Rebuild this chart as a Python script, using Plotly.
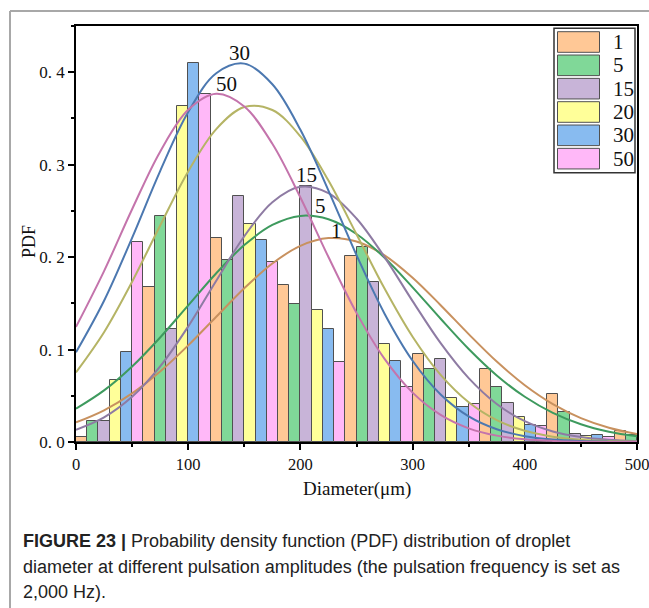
import plotly.graph_objects as go

# ---------------- data ----------------
bin_centers = [30, 90, 150, 210, 270, 330, 390, 450, 510]
series_names = ["1", "5", "15", "20", "30", "50"]
pdf_1 = [0.005, 0.168, 0.221, 0.170, 0.201, 0.095, 0.079, 0.052, 0.0115]
pdf_5 = [0.023, 0.245, 0.197, 0.149, 0.211, 0.079, 0.059, 0.032, 0.0072]
pdf_15 = [0.023, 0.122, 0.266, 0.277, 0.173, 0.090, 0.042, 0.009, None]
pdf_20 = [0.067, 0.364, 0.236, 0.143, 0.106, 0.048, 0.027, 0.007, None]
pdf_30 = [0.097, 0.410, 0.218, 0.122, 0.088, 0.038, 0.018, 0.0076, None]
pdf_50 = [0.216, 0.376, 0.195, 0.087, 0.060, 0.0415, 0.017, 0.005, None]

fit_x = [0, 25, 50, 75, 100, 125, 150, 175, 200, 225, 250, 275, 300,
         325, 350, 375, 400, 425, 450, 475, 500]
fit_1 = [0.0212, 0.0343, 0.0526, 0.0762, 0.1045, 0.1355, 0.1663, 0.1931, 0.2122, 0.2206, 0.2169,
         0.2019, 0.1777, 0.1480, 0.1167, 0.0870, 0.0614, 0.0410, 0.0259, 0.0155, 0.0087]
fit_5 = [0.0360, 0.0558, 0.0817, 0.1131, 0.1478, 0.1826, 0.2130, 0.2348, 0.2446, 0.2409, 0.2250,
         0.1993, 0.1673, 0.1333, 0.1006, 0.0720, 0.0489, 0.0315, 0.0192, 0.0111, 0.0061]
fit_15 = [0.0133, 0.0267, 0.0489, 0.0818, 0.1250, 0.1745, 0.2226, 0.2594, 0.2761, 0.2693, 0.2418,
          0.2000, 0.1524, 0.1069, 0.0691, 0.0411, 0.0225, 0.0114, 0.0053, 0.0023, 0.0009]
fit_20 = [0.0753, 0.1188, 0.1734, 0.2342, 0.2927, 0.3385, 0.3623, 0.3591, 0.3306, 0.2828, 0.2248,
          0.1660, 0.1139, 0.0726, 0.0430, 0.0236, 0.0121, 0.0057, 0.0025, 0.0010, 0.0004]
fit_30 = [0.0970, 0.1528, 0.2209, 0.2931, 0.3569, 0.3989, 0.4093, 0.3870, 0.3377, 0.2720, 0.2022,
          0.1388, 0.0879, 0.0514, 0.0277, 0.0138, 0.0063, 0.0027, 0.0011, 0.0004, 0.0001]
fit_50 = [0.1245, 0.1849, 0.2518, 0.3141, 0.3593, 0.3766, 0.3629, 0.3226, 0.2645, 0.2001, 0.1397,
          0.0899, 0.0534, 0.0293, 0.0148, 0.0069, 0.0030, 0.0012, 0.0004, 0.0001, 0.0000]

curve_labels = ["30", "50", "15", "5", "1"]
curve_label_x = [146, 134, 205, 218, 232]
curve_label_y = [0.421, 0.387, 0.289, 0.255, 0.228]

x_tickvals = [0, 100, 200, 300, 400, 500]
x_ticktext = ["0", "100", "200", "300", "400", "500"]
y_tickvals = [0.0, 0.1, 0.2, 0.3, 0.4]
y_ticktext = ["0. 0", "0. 1", "0. 2", "0. 3", "0. 4"]

x_title = "Diameter(μm)"
y_title = "PDF"

caption_lines = [
    "<b>FIGURE 23 |</b> Probability density function (PDF) distribution of droplet",
    "diameter at different pulsation amplitudes (the pulsation frequency is set as",
    "2,000 Hz).",
]

# ---------------- styles ----------------
bar_values = [pdf_1, pdf_5, pdf_15, pdf_20, pdf_30, pdf_50]
fit_values = [fit_1, fit_5, fit_15, fit_20, fit_30, fit_50]
bar_colors = ["#FFC896", "#80D898", "#C8B4D8", "#FFFF99", "#88BBF0", "#FFB8F8"]
line_colors = ["#C8915F", "#3E9A5E", "#8E7BA3", "#B5B465", "#4C78B0", "#C474AC"]

W, H = 649, 608
L, R, T, B = 76, 12, 26, 166
PW, PH = W - L - R, H - T - B

def px(xp):
    return (xp - L) / PW

def py(yp):
    return (H - B - yp) / PH

SERIF = "Times New Roman, Liberation Serif, serif"
SANS = "Liberation Sans, Arial, Helvetica, sans-serif"

fig = go.Figure()
for name, vals, col in zip(series_names, bar_values, bar_colors):
    fig.add_trace(go.Bar(
        x=bin_centers, y=vals, name=name, showlegend=False,
        marker=dict(color=col, line=dict(color="#505050", width=1)),
    ))
for name, vals, col in zip(series_names, fit_values, line_colors):
    fig.add_trace(go.Scatter(
        x=fit_x, y=vals, mode="lines", name=name + " fit", showlegend=False,
        line=dict(color=col, width=2, shape="spline", smoothing=1),
    ))

annotations = []
for t, ax_, ay_ in zip(curve_labels, curve_label_x, curve_label_y):
    annotations.append(dict(x=ax_, y=ay_, xref="x", yref="y", text=t, showarrow=False,
                            font=dict(family=SERIF, size=21, color="#111")))

# axis titles
annotations.append(dict(x=px(356.5), y=py(489), xref="paper", yref="paper", text=x_title,
                        showarrow=False, xanchor="center", yanchor="middle",
                        font=dict(family=SERIF, size=19, color="#111")))
annotations.append(dict(x=px(29), y=py(241), xref="paper", yref="paper", text=y_title,
                        showarrow=False, xanchor="center", yanchor="middle", textangle=-90,
                        font=dict(family=SERIF, size=18, color="#111")))

# manual legend
shapes = []
shapes.append(dict(type="rect", xref="paper", yref="paper",
                   x0=px(554), x1=px(635), y0=py(172.7), y1=py(28.3),
                   line=dict(color="#333", width=1.5), fillcolor="white", layer="above"))
for i, (name, col) in enumerate(zip(series_names, bar_colors)):
    top = 31.7 + 23.33 * i
    shapes.append(dict(type="rect", xref="paper", yref="paper",
                       x0=px(557.5), x1=px(599.5), y0=py(top + 20.6), y1=py(top),
                       line=dict(color="#505050", width=1), fillcolor=col, layer="above"))
    annotations.append(dict(x=px(611), y=py(top + 10.3), xref="paper", yref="paper",
                            text=name, showarrow=False, xanchor="left", yanchor="middle",
                            font=dict(family=SERIF, size=21, color="#111")))

# page frame lines
shapes.append(dict(type="line", xref="paper", yref="paper",
                   x0=px(10), x1=px(649), y0=py(11), y1=py(11),
                   line=dict(color="#A8A8A8", width=2)))
shapes.append(dict(type="line", xref="paper", yref="paper",
                   x0=px(10), x1=px(10), y0=py(11), y1=py(608),
                   line=dict(color="#A8A8A8", width=2)))

# caption
for i, line in enumerate(caption_lines):
    annotations.append(dict(x=px(21), y=py(541 + 25.5 * i), xref="paper", yref="paper",
                            text=line, showarrow=False, xanchor="left", yanchor="middle",
                            font=dict(family=SANS, size=18, color="#222")))

fig.update_layout(
    width=W, height=H, autosize=False,
    margin=dict(l=L, r=R, t=T, b=B, autoexpand=False),
    paper_bgcolor="white", plot_bgcolor="white",
    barmode="group", bargap=0, bargroupgap=0,
    shapes=shapes, annotations=annotations,
    showlegend=False,
    xaxis=dict(
        range=[0, 500], tickvals=x_tickvals, ticktext=x_ticktext, automargin=False,
        ticklabeloverflow="allow",
        ticks="outside", ticklen=6, tickwidth=1.5, tickcolor="black",
        minor=dict(dtick=50, tick0=0, ticks="outside", ticklen=3, tickwidth=1.5, tickcolor="black"),
        showline=True, linecolor="black", linewidth=1.5, mirror=True,
        showgrid=False, zeroline=False,
        tickfont=dict(family=SERIF, size=16.5, color="#111"),
    ),
    yaxis=dict(
        range=[0, 0.45], tickvals=y_tickvals, ticktext=y_ticktext, automargin=False,
        ticklabeloverflow="allow",
        ticks="outside", ticklen=6, tickwidth=1.5, tickcolor="black",
        minor=dict(dtick=0.05, tick0=0, ticks="outside", ticklen=3, tickwidth=1.5, tickcolor="black"),
        showline=True, linecolor="black", linewidth=1.5, mirror=True,
        showgrid=False, zeroline=False,
        tickfont=dict(family=SERIF, size=17, color="#111"),
    ),
)

fig.write_html("out.html")
